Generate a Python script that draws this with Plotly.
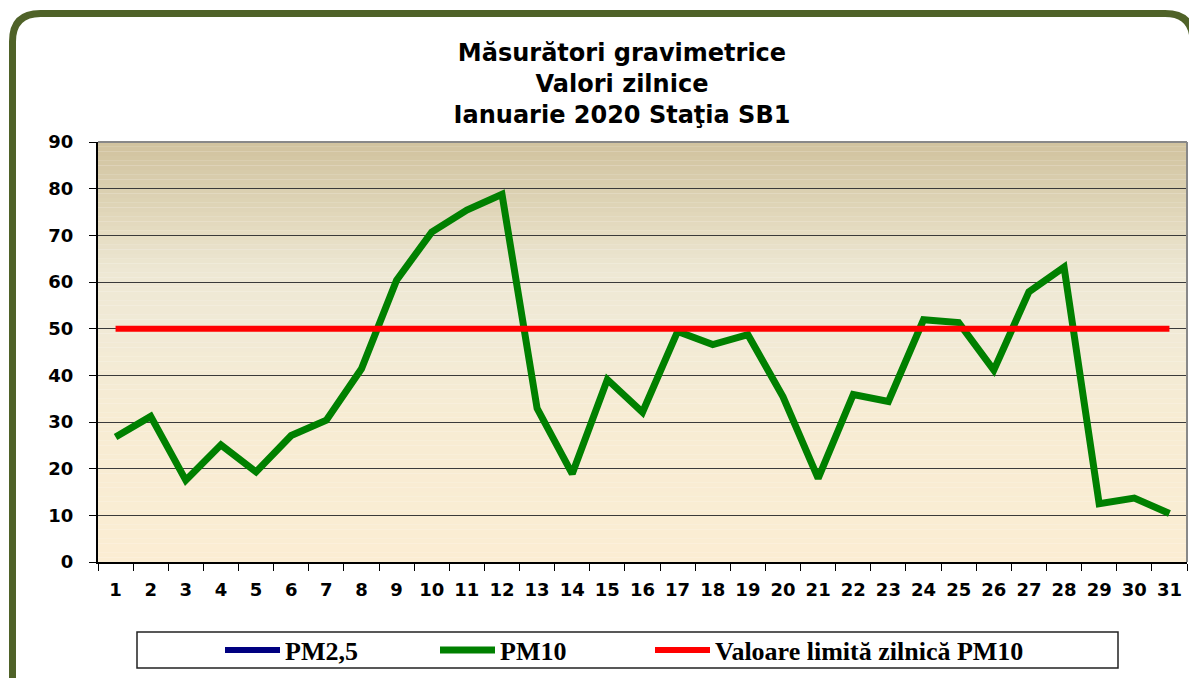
import plotly.graph_objects as go

days = [str(d) for d in range(1, 32)]
pm10 = [26.8, 31.2, 17.5, 25.1, 19.3, 27.1, 30.4, 41.4, 60.4, 70.7, 75.4, 78.8,
        32.9, 18.9, 39.1, 32.1, 49.4, 46.6, 48.7, 35.4, 17.9, 35.9, 34.4, 51.9,
        51.3, 41.1, 57.9, 63.2, 12.5, 13.7, 10.4]
pm25 = [None] * 31
limit_value = 50
limit = [limit_value] * 31
y_ticks = list(range(0, 100, 10))

# page body has an 8px margin; design coordinates below are screen pixels
OFF = 8
W, H = 1197 - OFF, 678 - OFF
ML = 98 - OFF
MT = 142 - OFF
MR = W - (1187 - OFF)
MB = H - (562 - OFF)
PW, PH = W - ML - MR, H - MT - MB


def px(x):
    return (x - OFF - ML) / PW


def py(y):
    return 1 - (y - OFF - MT) / PH


fig = go.Figure()
fig.add_trace(go.Scatter(x=days, y=pm25, name="PM2,5", mode="lines", legend="legend",
                         line=dict(color="#000080", width=6)))
fig.add_trace(go.Scatter(x=days, y=pm10, name="PM10", mode="lines", legend="legend2",
                         line=dict(color="#008000", width=7)))
fig.add_trace(go.Scatter(x=days, y=limit, name="Valoare limită zilnică PM10", legend="legend3",
                         mode="lines", line=dict(color="#FF0000", width=6)))

shapes = []
stops = [(0, (251, 237, 211)), (30, (247, 236, 211)), (50, (241, 234, 214)),
         (62, (238, 232, 212)), (75, (224, 214, 185)), (90, (208, 194, 158))]


def col(v):
    for (a, ca), (b, cb) in zip(stops[:-1], stops[1:]):
        if a <= v <= b:
            t = (v - a) / (b - a)
            return "rgb(%d,%d,%d)" % tuple(round(ca[i] + (cb[i] - ca[i]) * t) for i in range(3))
    return "rgb(251,237,211)"


for i in range(90):
    shapes.append(dict(type="rect", xref="paper", yref="y", x0=0, x1=1, y0=i, y1=i + 1.02,
                       fillcolor=col(i + 0.5), line=dict(width=0), layer="below"))

# outer rounded border
x0b, y0b, x1b, y1b, r = 12.5, 13.5, 1193, 700, 28
path = ("M %f,%f L %f,%f Q %f,%f %f,%f L %f,%f Q %f,%f %f,%f L %f,%f" % (
    px(x0b), py(y1b),
    px(x0b), py(y0b + r),
    px(x0b), py(y0b), px(x0b + r), py(y0b),
    px(x1b - r), py(y0b),
    px(x1b), py(y0b), px(x1b), py(y0b + r),
    px(x1b), py(y1b)))
shapes.append(dict(type="path", xref="paper", yref="paper", path=path,
                   line=dict(color="#4F6228", width=7)))
# legend box
shapes.append(dict(type="rect", xref="paper", yref="paper",
                   x0=px(137), x1=px(1118), y0=py(668), y1=py(632),
                   line=dict(color="#222222", width=1.5), fillcolor="white", layer="below"))
# plot top/right border
shapes.append(dict(type="line", xref="paper", yref="paper", x0=0, x1=1, y0=1, y1=1,
                   line=dict(color="#888888", width=2)))
shapes.append(dict(type="line", xref="paper", yref="paper", x0=1, x1=1, y0=0, y1=1,
                   line=dict(color="#888888", width=2)))

tickfont = dict(family="DejaVu Sans", size=18, color="black", weight="bold")
legfont = dict(family="Times New Roman, Liberation Serif", size=26, color="black", weight="bold")


def leg(xs):
    return dict(orientation="h", xref="container", yref="container",
                x=(xs - 5 - OFF) / W, xanchor="left", y=1 - (650 - OFF) / H, yanchor="middle",
                bgcolor="rgba(0,0,0,0)", borderwidth=0, itemwidth=55, font=legfont)


fig.update_layout(
    width=W, height=H,
    margin=dict(l=ML, r=MR, t=MT, b=MB),
    paper_bgcolor="white", plot_bgcolor="rgba(0,0,0,0)",
    title=dict(text="Măsurători gravimetrice<br>Valori zilnice<br>Ianuarie 2020 Staţia SB1",
               x=(622 - OFF) / W, xref="container", xanchor="center",
               y=1 - (61 - OFF) / H, yref="container", yanchor="top",
               font=dict(family="DejaVu Sans", size=24, color="black", weight="bold")),
    xaxis=dict(type="category", tickson="boundaries", ticks="outside", ticklen=7,
               tickcolor="black", showline=True, linecolor="black", linewidth=2,
               showgrid=False, tickfont=tickfont, ticklabelstandoff=10, range=[-0.5, 30.5]),
    yaxis=dict(range=[0, 90], tickvals=y_ticks, ticks="outside", ticklen=7, tickcolor="black",
               showline=True, linecolor="black", linewidth=2, showgrid=True,
               gridcolor="#3a3a3a", gridwidth=1.2, zeroline=False,
               tickfont=tickfont, ticklabelstandoff=12),
    legend=leg(225),
    legend2=leg(440),
    legend3=leg(655),
    shapes=shapes,
    showlegend=True,
)

fig.write_html("out.html")
